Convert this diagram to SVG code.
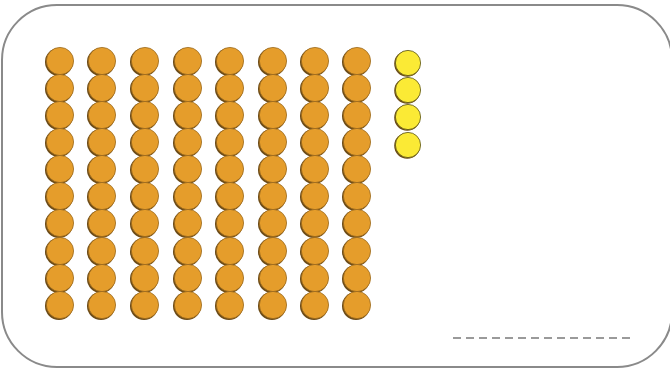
<svg xmlns="http://www.w3.org/2000/svg" width="670" height="369" viewBox="0 0 670 369">
<defs>
<style>
.frame{fill:#fff;stroke:#8a8a8a;stroke-width:2}
.o{fill:#E59D2B;stroke:#9a6a1e;stroke-width:0.8}
.os{fill:#6b4a16}
.y{fill:#FBEA35;stroke:#5a5418;stroke-width:0.8}
.dash{stroke:#9a9a9a;stroke-width:2;stroke-dasharray:8 5}
</style>
<filter id="blur" x="-5%" y="-200%" width="110%" height="500%"><feGaussianBlur stdDeviation="1.5"/></filter>
<g id="dot">
<circle class="os" cx="-1" cy="1" r="14"/>
<circle class="o" cx="0" cy="0" r="13.6"/>
</g>
<g id="ydot">
<circle class="os" cx="-0.8" cy="0.8" r="13"/>
<circle class="y" cx="0" cy="0" r="12.6"/>
</g>
</defs>
<rect id="frame" class="frame" x="2" y="5" width="670" height="362" rx="55" ry="55"/>
<g id="orange-dots">
<g id="c1"><use href="#dot" x="60" y="61"/><use href="#dot" x="60" y="88"/><use href="#dot" x="60" y="115"/><use href="#dot" x="60" y="142"/><use href="#dot" x="60" y="169"/><use href="#dot" x="60" y="196"/><use href="#dot" x="60" y="223"/><use href="#dot" x="60" y="251"/><use href="#dot" x="60" y="278"/><use href="#dot" x="60" y="305"/></g>
<g id="c2"><use href="#dot" x="102" y="61"/><use href="#dot" x="102" y="88"/><use href="#dot" x="102" y="115"/><use href="#dot" x="102" y="142"/><use href="#dot" x="102" y="169"/><use href="#dot" x="102" y="196"/><use href="#dot" x="102" y="223"/><use href="#dot" x="102" y="251"/><use href="#dot" x="102" y="278"/><use href="#dot" x="102" y="305"/></g>
<g id="c3"><use href="#dot" x="145" y="61"/><use href="#dot" x="145" y="88"/><use href="#dot" x="145" y="115"/><use href="#dot" x="145" y="142"/><use href="#dot" x="145" y="169"/><use href="#dot" x="145" y="196"/><use href="#dot" x="145" y="223"/><use href="#dot" x="145" y="251"/><use href="#dot" x="145" y="278"/><use href="#dot" x="145" y="305"/></g>
<g id="c4"><use href="#dot" x="188" y="61"/><use href="#dot" x="188" y="88"/><use href="#dot" x="188" y="115"/><use href="#dot" x="188" y="142"/><use href="#dot" x="188" y="169"/><use href="#dot" x="188" y="196"/><use href="#dot" x="188" y="223"/><use href="#dot" x="188" y="251"/><use href="#dot" x="188" y="278"/><use href="#dot" x="188" y="305"/></g>
<g id="c5"><use href="#dot" x="230" y="61"/><use href="#dot" x="230" y="88"/><use href="#dot" x="230" y="115"/><use href="#dot" x="230" y="142"/><use href="#dot" x="230" y="169"/><use href="#dot" x="230" y="196"/><use href="#dot" x="230" y="223"/><use href="#dot" x="230" y="251"/><use href="#dot" x="230" y="278"/><use href="#dot" x="230" y="305"/></g>
<g id="c6"><use href="#dot" x="273" y="61"/><use href="#dot" x="273" y="88"/><use href="#dot" x="273" y="115"/><use href="#dot" x="273" y="142"/><use href="#dot" x="273" y="169"/><use href="#dot" x="273" y="196"/><use href="#dot" x="273" y="223"/><use href="#dot" x="273" y="251"/><use href="#dot" x="273" y="278"/><use href="#dot" x="273" y="305"/></g>
<g id="c7"><use href="#dot" x="315" y="61"/><use href="#dot" x="315" y="88"/><use href="#dot" x="315" y="115"/><use href="#dot" x="315" y="142"/><use href="#dot" x="315" y="169"/><use href="#dot" x="315" y="196"/><use href="#dot" x="315" y="223"/><use href="#dot" x="315" y="251"/><use href="#dot" x="315" y="278"/><use href="#dot" x="315" y="305"/></g>
<g id="c8"><use href="#dot" x="357" y="61"/><use href="#dot" x="357" y="88"/><use href="#dot" x="357" y="115"/><use href="#dot" x="357" y="142"/><use href="#dot" x="357" y="169"/><use href="#dot" x="357" y="196"/><use href="#dot" x="357" y="223"/><use href="#dot" x="357" y="251"/><use href="#dot" x="357" y="278"/><use href="#dot" x="357" y="305"/></g>
</g>
<g id="yellow-dots">
<use href="#ydot" x="408" y="63"/><use href="#ydot" x="408" y="90"/><use href="#ydot" x="408" y="117"/><use href="#ydot" x="408" y="145"/>
</g>
<g id="answer-line">
<line class="dash" x1="453" y1="341" x2="630" y2="341" filter="url(#blur)" opacity="0.5"/>
<line class="dash" x1="453" y1="338" x2="630" y2="338"/>
</g>
</svg>
